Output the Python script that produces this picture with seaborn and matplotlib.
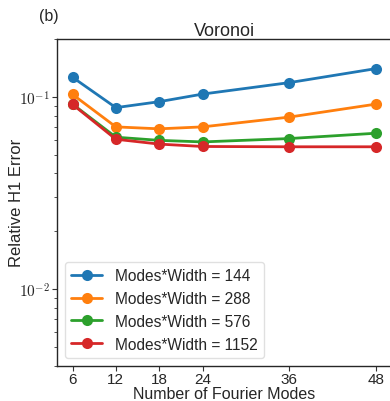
import matplotlib
matplotlib.use("Agg")
import matplotlib.pyplot as plt
import seaborn as sns
import pandas as pd
import numpy as np
from matplotlib.ticker import FuncFormatter, LogLocator, NullFormatter

modes = [6, 12, 18, 24, 36, 48]
series_names = ["Modes*Width = 144", "Modes*Width = 288", "Modes*Width = 576", "Modes*Width = 1152"]
err_144 = [0.1265, 0.0879, 0.0944, 0.1034, 0.1186, 0.1403]
err_288 = [0.1030, 0.0698, 0.0682, 0.0698, 0.0785, 0.0917]
err_576 = [0.0917, 0.0617, 0.0594, 0.0583, 0.0607, 0.0647]
err_1152 = [0.0914, 0.0602, 0.0568, 0.0552, 0.0550, 0.0550]
title = "Voronoi"
panel = "(b)"

rows = []
for name, vals in zip(series_names, [err_144, err_288, err_576, err_1152]):
    for m, v in zip(modes, vals):
        rows.append({"modes": m, "err": v, "series": name})
df = pd.DataFrame(rows)

sns.set_style("white")
plt.rcParams["font.family"] = ["Liberation Sans", "DejaVu Sans"]
plt.rcParams["mathtext.fontset"] = "cm"

fig = plt.figure(figsize=(3.9, 4.02), dpi=100)
ax = fig.add_axes([0.147, 0.088, 0.856, 0.8125])

sns.lineplot(data=df, x="modes", y="err", hue="series", hue_order=series_names,
             palette=["#1f77b4", "#ff7f0e", "#2ca02c", "#d62728"],
             marker="o", markersize=8, markeredgewidth=0, linewidth=2,
             ax=ax)

ax.set_yscale("log")
ax.set_ylim(0.004, 0.2)
ax.set_xlim(3.9, 50.1)
ax.set_xticks(modes)
ax.set_xticklabels([str(m) for m in modes])

def fmt(v, pos):
    e = int(round(np.log10(v)))
    return r"$10^{%d}$" % e
ax.yaxis.set_major_locator(LogLocator(base=10))
ax.yaxis.set_major_formatter(FuncFormatter(fmt))
ax.yaxis.set_minor_locator(LogLocator(base=10, subs=np.arange(2, 10)))
ax.yaxis.set_minor_formatter(NullFormatter())

ax.tick_params(axis="x", which="major", labelsize=11, length=3.5, width=0.8, pad=1, direction="out", bottom=True, color="0.2")
ax.tick_params(axis="y", which="major", labelsize=11, length=3.5, width=0.8, pad=2, direction="out", left=True, color="0.2")
ax.tick_params(axis="y", which="minor", length=2, width=0.6, left=True, color="0.2")
for s in ["left", "bottom", "top"]:
    ax.spines[s].set_color("0.15")
    ax.spines[s].set_linewidth(1.0)
ax.spines["right"].set_visible(False)

ax.set_xlabel("Number of Fourier Modes", fontsize=11.5, labelpad=0)
ax.set_ylabel("Relative H1 Error", fontsize=12)
ax.yaxis.set_label_coords(-0.1, 0.5)
ax.set_title(title, fontsize=13, pad=3)
fig.text(0.124, 0.96, panel, fontsize=11.5, ha="center", va="center")

leg = ax.legend(loc="lower left", fontsize=11.2, frameon=True, borderaxespad=0.5)
leg.get_frame().set_edgecolor("0.85")

fig.savefig("out.png", dpi=100)
